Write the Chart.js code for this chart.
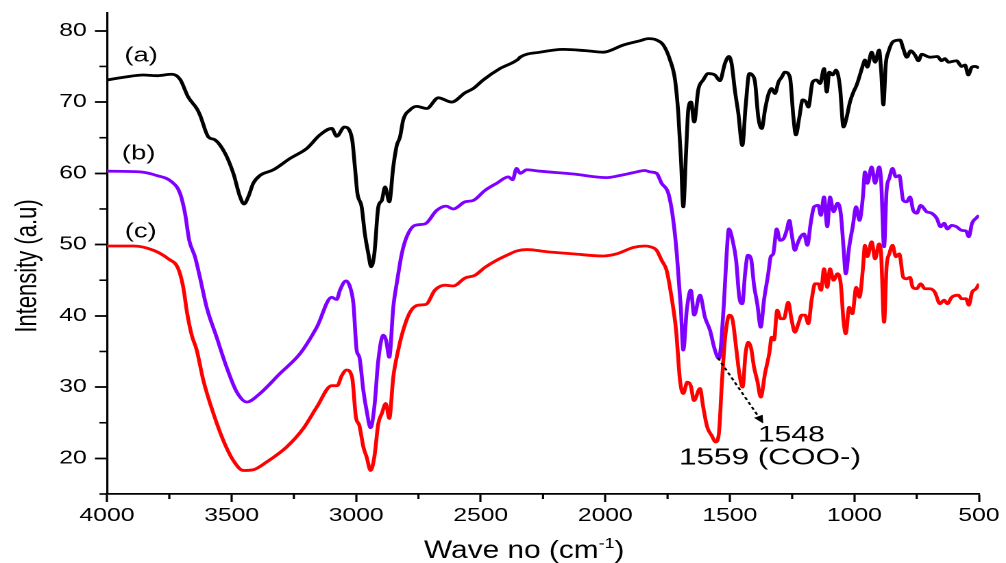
<!DOCTYPE html>
<html>
<head>
<meta charset="utf-8">
<script src="https://cdn.jsdelivr.net/npm/chart.js@4/dist/chart.umd.min.js"></script>
<style>
  html, body { margin: 0; padding: 0; background: #fff; }
  #c { display: block; width: 1006px !important; height: 563px !important; }
</style>
</head>
<body>
<canvas id="c" width="734" height="563" style="width:1006px;height:563px"></canvas>
<script>
// ---------- data ----------
const WN_A = [4000,3930,3854,3800,3740,3707,3674,3640,3627,3593,3567,3526,3493,3466,3450,3433,3413,3386,3332,3265,3198,3145,3098,3078,3047,3025,3015,3005,2995,2978,2965,2951,2940,2927,2911,2897,2884,2867,2851,2837,2824,2811,2784,2757,2717,2670,2617,2563,2530,2490,2423,2350,2342,2262,2168,2075,2008,1928,1861,1827,1794,1767,1740,1720,1707,1696,1687,1676,1667,1656,1643,1627,1607,1587,1560,1540,1520,1504,1493,1480,1466,1450,1437,1422,1410,1399,1386,1372,1359,1346,1332,1319,1305,1292,1279,1259,1245,1235,1221,1208,1194,1185,1168,1152,1138,1122,1111,1101,1087,1074,1058,1044,1031,1018,1004,991,978,964,958,948,931,917,901,893,884,874,864,844,817,804,790,774,757,743,730,697,667,650,637,623,590,570,556,543,529,516,500];
const INT_A = [73.1,73.5,73.8,73.7,73.9,73.2,70.7,69.1,68.2,65.1,64.7,62.8,60.0,56.7,55.7,56.7,58.6,59.7,60.5,62.1,63.5,65.4,66.3,65.2,66.5,65.9,64.5,60.9,57.2,55.3,51.5,48.7,46.9,48.7,55.3,56.2,58.1,56.0,60.9,63.9,65.1,67.5,68.9,69.4,69.1,70.6,70.0,71.3,71.9,73.1,74.7,76.0,76.3,77.0,77.4,77.2,77.0,78.0,78.6,78.9,78.7,78.0,75.9,73.1,68.4,61.8,55.3,62.8,68.9,70.0,67.2,71.7,73.1,74.0,73.8,73.0,75.4,76.4,75.4,71.7,68.4,63.9,69.3,74.0,73.8,72.8,67.9,66.3,68.9,71.0,71.9,71.2,72.8,73.5,74.2,73.5,67.9,65.4,67.9,70.3,70.0,69.3,72.8,73.1,72.6,74.7,71.4,74.2,73.8,74.5,72.1,66.5,67.9,70.0,71.4,72.4,73.8,75.4,75.9,74.9,77.0,75.6,77.3,74.5,69.6,75.4,77.0,78.5,78.7,77.5,76.3,77.2,76.6,75.8,76.7,76.3,76.4,75.8,76.1,75.6,75.8,75.0,75.2,73.8,74.9,75.0,74.8];

const WN_B = [4000,3868,3801,3740,3707,3687,3670,3647,3627,3600,3560,3520,3479,3439,3386,3306,3225,3158,3098,3078,3065,3041,3024,3011,2998,2987,2971,2958,2942,2927,2911,2891,2880,2867,2851,2835,2817,2797,2764,2724,2677,2639,2610,2563,2530,2483,2436,2389,2372,2356,2342,2315,2262,2128,1994,1941,1887,1841,1820,1794,1774,1747,1729,1713,1697,1687,1673,1657,1643,1620,1600,1580,1560,1544,1524,1513,1504,1489,1475,1462,1450,1439,1428,1415,1403,1390,1376,1363,1346,1336,1326,1312,1299,1285,1272,1261,1252,1239,1229,1216,1202,1189,1176,1162,1145,1135,1122,1109,1098,1084,1068,1055,1044,1035,1021,1007,993,980,966,958,948,931,917,901,893,881,871,860,847,834,820,804,790,777,764,750,734,710,690,670,654,640,627,610,590,570,552,541,528,512,500];
const INT_B = [60.3,60.2,59.7,58.8,57.2,54.4,50.6,48.3,45.4,41.2,37.0,32.8,29.3,27.9,29.1,31.9,34.7,38.4,42.6,42.3,43.6,44.9,44.0,41.7,35.2,34.2,29.5,26.7,24.3,27.2,33.8,37.3,36.6,34.2,41.2,45.0,48.7,51.1,52.7,52.9,54.8,55.4,55.0,56.0,56.2,57.6,58.6,59.5,59.1,60.7,60.0,60.5,60.3,59.9,59.4,59.7,60.1,60.4,60.2,60.0,58.6,57.2,53.9,48.7,41.2,35.2,40.8,43.6,40.1,42.9,39.8,38.0,35.2,34.0,41.7,48.7,52.2,50.6,47.8,42.6,41.7,45.9,48.5,48.0,44.3,41.7,38.4,42.2,45.9,48.3,48.7,52.2,50.6,50.8,52.0,53.4,51.5,49.2,50.1,51.1,51.5,49.9,52.9,55.3,55.5,54.1,56.7,52.5,56.7,54.6,55.8,54.4,49.7,45.9,49.7,52.5,55.3,53.4,56.7,60.2,58.6,60.9,58.6,60.9,59.0,49.7,57.6,59.3,60.7,59.5,59.7,56.2,56.0,56.7,54.8,54.4,55.5,54.6,54.4,53.7,52.5,53.0,52.2,52.7,52.5,52.0,51.9,51.1,53.0,53.7,54.1];

const WN_C = [4000,3894,3814,3754,3714,3694,3678,3660,3640,3613,3573,3533,3493,3453,3413,3359,3279,3212,3158,3098,3076,3058,3038,3016,3001,2987,2971,2958,2942,2927,2911,2897,2881,2867,2851,2831,2811,2784,2751,2720,2684,2643,2610,2563,2523,2483,2436,2389,2356,2315,2235,2128,2008,1954,1887,1841,1820,1794,1774,1754,1734,1716,1700,1687,1671,1657,1644,1620,1607,1591,1573,1557,1544,1533,1520,1502,1489,1475,1462,1449,1437,1426,1415,1403,1390,1376,1359,1342,1332,1323,1310,1296,1283,1266,1252,1239,1225,1212,1198,1185,1172,1158,1145,1134,1122,1109,1098,1084,1068,1055,1044,1035,1021,1008,993,980,966,958,948,931,917,901,893,881,871,860,847,834,820,804,790,777,766,750,734,717,697,677,657,640,627,610,583,570,552,541,528,512,500];
const INT_C = [49.8,49.8,49.2,48.0,46.6,44.0,40.3,37.3,35.2,30.9,26.3,22.5,19.7,18.3,18.4,19.5,21.6,24.2,27.2,30.2,30.2,31.6,32.4,31.3,25.8,24.6,21.6,20.2,18.3,20.2,24.9,26.3,27.7,25.6,31.4,35.2,38.0,40.5,41.5,41.6,43.6,44.3,44.2,45.3,45.7,46.8,47.8,48.6,49.1,49.3,49.0,48.7,48.4,48.7,49.6,49.8,49.7,49.2,47.8,46.4,42.6,38.0,30.9,29.1,30.7,30.2,28.1,29.8,27.2,24.4,23.2,22.3,23.5,30.0,36.6,40.1,39.4,35.6,31.9,30.0,34.7,36.3,35.5,32.8,30.9,28.6,31.9,34.7,37.0,36.6,40.8,39.6,39.6,41.9,39.4,37.7,38.9,40.1,40.1,38.9,42.2,44.5,44.5,43.6,46.6,44.0,46.6,45.0,45.9,44.5,39.4,37.5,41.2,40.3,44.0,42.6,46.6,49.9,48.3,50.4,48.0,50.1,48.7,39.1,46.9,48.7,49.9,48.3,48.7,45.4,45.2,45.4,44.0,43.8,44.5,43.8,43.8,43.3,41.7,42.2,41.7,42.6,42.9,42.4,42.4,41.5,43.3,43.8,44.5];

const SERIES_LABELS = ['(a)', '(b)', '(c)'];
const X_MAJOR = [4000,3500,3000,2500,2000,1500,1000,500];
const X_MINOR = [3750,3250,2750,2250,1750,1250,750];
const Y_MAJOR = [20,30,40,50,60,70,80];
const Y_MINOR = [15,25,35,45,55,65,75];

// annotation anchors (data coordinates)
const LABEL_POS = [[3863, 76.45], [3873, 62.7], [3865, 51.8]];
const NOTE_1548 = ['1548', 1253, 23.2];
const NOTE_COO = ['1559 (COO-)', 1339, 20.0];
const ARROW = [[1548, 34.1], [1366, 24.9]];

// ---------- chart ----------
const FONT = '"Liberation Sans", Arial, sans-serif';
const COLORS = ['#000000', '#7F00FF', '#FF0000'];

function pts(xs, ys) { return xs.map((x, i) => ({ x: x, y: ys[i] })); }

const overlay = {
  id: 'overlay',
  afterDraw(chart) {
    const ctx = chart.ctx, a = chart.chartArea, xs = chart.scales.x, ys = chart.scales.y;
    ctx.save();
    // minor ticks
    ctx.strokeStyle = '#000'; ctx.lineWidth = 1.6;
    X_MINOR.forEach(v => { const p = xs.getPixelForValue(v); ctx.beginPath(); ctx.moveTo(p, a.bottom); ctx.lineTo(p, a.bottom + 5); ctx.stroke(); });
    Y_MINOR.forEach(v => { const p = ys.getPixelForValue(v); ctx.beginPath(); ctx.moveTo(a.left, p); ctx.lineTo(a.left - 5.5, p); ctx.stroke(); });

    ctx.fillStyle = '#000';
    ctx.textAlign = 'center'; ctx.textBaseline = 'middle';
    // series labels
    ctx.font = '20px ' + FONT;
    SERIES_LABELS.forEach((t, i) => ctx.fillText(t, xs.getPixelForValue(LABEL_POS[i][0]), ys.getPixelForValue(LABEL_POS[i][1])));
    // notes
    ctx.font = '22px ' + FONT;
    ctx.fillText(NOTE_1548[0], xs.getPixelForValue(NOTE_1548[1]), ys.getPixelForValue(NOTE_1548[2]));
    ctx.font = '23px ' + FONT;
    ctx.fillText(NOTE_COO[0], xs.getPixelForValue(NOTE_COO[1]), ys.getPixelForValue(NOTE_COO[2]));

    // dashed arrow
    const x1 = xs.getPixelForValue(ARROW[0][0]), y1 = ys.getPixelForValue(ARROW[0][1]);
    const x2 = xs.getPixelForValue(ARROW[1][0]), y2 = ys.getPixelForValue(ARROW[1][1]);
    const ang = Math.atan2(y2 - y1, x2 - x1);
    const hl = 8;
    ctx.setLineDash([3, 2.5]); ctx.lineWidth = 1.6;
    ctx.beginPath(); ctx.moveTo(x1, y1); ctx.lineTo(x2 - hl * Math.cos(ang), y2 - hl * Math.sin(ang)); ctx.stroke();
    ctx.setLineDash([]);
    ctx.beginPath();
    ctx.moveTo(x2, y2);
    ctx.lineTo(x2 - hl * Math.cos(ang) + 3.5 * Math.sin(ang), y2 - hl * Math.sin(ang) - 3.5 * Math.cos(ang));
    ctx.lineTo(x2 - hl * Math.cos(ang) - 3.5 * Math.sin(ang), y2 - hl * Math.sin(ang) + 3.5 * Math.cos(ang));
    ctx.closePath(); ctx.fill();

    // x axis title with superscript
    ctx.save();
    ctx.translate(382.5, 558);
    ctx.scale(0.87, 1);
    ctx.textAlign = 'left'; ctx.textBaseline = 'alphabetic';
    const big = '25px ' + FONT, small = '15px ' + FONT;
    ctx.font = big; const w1 = ctx.measureText('Wave no (cm').width; const w3 = ctx.measureText(')').width;
    ctx.font = small; const w2 = ctx.measureText('-1').width;
    let cx = -(w1 + w2 + w3) / 2;
    ctx.font = big; ctx.fillText('Wave no (cm', cx, 0); cx += w1;
    ctx.font = small; ctx.fillText('-1', cx, -10); cx += w2;
    ctx.font = big; ctx.fillText(')', cx, 0);
    ctx.restore();

    // y axis title
    ctx.save();
    ctx.translate(20.3, 266);
    ctx.rotate(-Math.PI / 2);
    ctx.textAlign = 'center'; ctx.textBaseline = 'middle';
    ctx.font = '22px ' + FONT;
    ctx.fillText('Intensity (a.u)', 0, 0);
    ctx.restore();

    ctx.restore();
  }
};

new Chart(document.getElementById('c'), {
  type: 'line',
  data: {
    datasets: [
      { label: SERIES_LABELS[0], data: pts(WN_A, INT_A), borderColor: COLORS[0] },
      { label: SERIES_LABELS[1], data: pts(WN_B, INT_B), borderColor: COLORS[1] },
      { label: SERIES_LABELS[2], data: pts(WN_C, INT_C), borderColor: COLORS[2] }
    ]
  },
  options: {
    responsive: false,
    devicePixelRatio: 2,
    animation: false,
    events: [],
    elements: {
      line: { borderWidth: 2.8, cubicInterpolationMode: 'monotone', fill: false },
      point: { radius: 0 }
    },
    layout: { padding: { left: 0, right: 19.7, top: 13, bottom: 0 } },
    plugins: { legend: { display: false }, tooltip: { enabled: false }, title: { display: false } },
    scales: {
      x: {
        type: 'linear', reverse: true, min: 500, max: 4000,
        afterBuildTicks: s => { s.ticks = X_MAJOR.map(v => ({ value: v })); },
        afterFit: s => { s.height = 69; s.paddingLeft = 0; s.paddingRight = 0; },
        border: { display: true, color: '#000', width: 1.7 },
        grid: { display: true, drawOnChartArea: false, drawTicks: true, tickLength: 8, tickColor: '#000', tickWidth: 1.6 },
        ticks: { color: '#000', font: { family: FONT, size: 18 }, padding: 3, maxRotation: 0, autoSkip: false, callback: v => String(v) }
      },
      y: {
        type: 'linear', min: 15, max: 82.5,
        afterBuildTicks: s => { s.ticks = Y_MAJOR.map(v => ({ value: v })); },
        afterFit: s => { s.width = 78.07; s.paddingTop = 0; s.paddingBottom = 0; },
        border: { display: true, color: '#000', width: 1.6 },
        grid: { display: true, drawOnChartArea: false, drawTicks: true, tickLength: 8.8, tickColor: '#000', tickWidth: 1.8 },
        ticks: { color: '#000', font: { family: FONT, size: 18 }, padding: 6, autoSkip: false, callback: v => String(v) }
      }
    }
  },
  plugins: [overlay]
});
</script>
</body>
</html>
